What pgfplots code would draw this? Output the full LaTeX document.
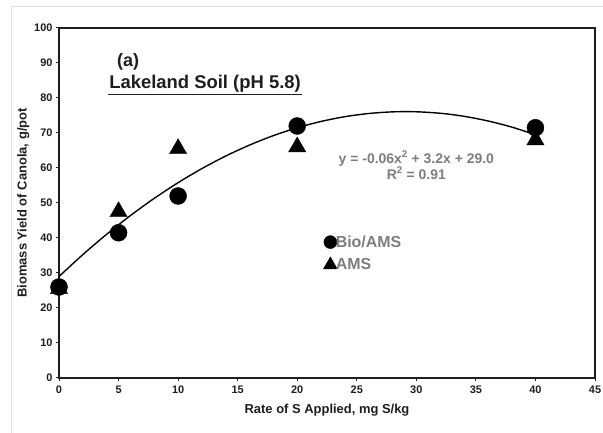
\documentclass[border=0pt]{standalone}
\usepackage{pgfplots}
\pgfplotsset{compat=1.18}
\usepackage{fontspec}
\setmainfont{Liberation Sans}
\definecolor{txtgray}{RGB}{125,125,125}
\definecolor{axcol}{RGB}{30,30,30}
\begin{document}
\begin{tikzpicture}
\path[use as bounding box] (0,0) rectangle (603bp,433bp);
\draw[black!12, line width=1bp] (11bp,0) -- (11bp,426bp) -- (603bp,426bp);
\begin{axis}[
  at={(59bp,55bp)}, anchor=south west,
  scale only axis, width=536bp, height=350bp,
  xmin=0, xmax=45, ymin=0, ymax=100,
  xtick={0,5,...,45}, ytick={0,10,...,100},
  axis line style={line width=1.8bp, color=axcol},
  tick style={line width=1bp, color=axcol},
  tick align=outside, major tick length=3bp,
  xtick pos=bottom, ytick pos=left,
  /pgf/number format/assume math mode=true,
  ticklabel style={font=\bfseries\fontsize{11}{12}\selectfont, text=axcol},
  xticklabel style={yshift=-1bp},
  xlabel={Rate of S Applied, mg S/kg},
  ylabel={Biomass Yield of Canola, g/pot},
  label style={font=\bfseries\fontsize{13}{14}\selectfont, text=axcol},
  xlabel style={yshift=-4bp},
  ylabel style={yshift=-2bp},
  legend style={at={(0.493,0.356)}, anchor=west, draw=none, fill=none,
    font=\bfseries\fontsize{16}{17}\selectfont, text=txtgray,
    row sep=6bp, inner sep=0pt},
  legend cell align=left,
  clip=false,
]
\addplot[black, line width=1.4bp, smooth, forget plot] coordinates {
(0,29.00) (2,35.25) (4,41.06) (6,46.42) (8,51.34) (10,55.81) (12,59.84)
(14,63.42) (16,66.56) (18,69.25) (20,71.50) (22,73.30) (24,74.66) (26,75.57)
(28,76.04) (30,76.06) (32,75.64) (34,74.77) (36,73.45) (38,71.70) (40,69.49)};
\addplot[only marks, mark=*, mark size=8.5bp, black, forget plot] coordinates {
(0,26) (5,41.5) (10,52) (20,72) (40,71.5)};
\addplot[only marks, mark=triangle*, mark size=10bp, black, forget plot] coordinates {
(0,25.5) (5,47.5) (10,65.5) (20,66) (40,68)};
\addlegendimage{only marks, mark=*, mark size=6.5bp, black}
\addlegendentry{\hspace{-3.5bp}Bio/AMS}
\addlegendimage{only marks, mark=triangle*, mark size=8bp, black}
\addlegendentry{\hspace{-3.5bp}AMS}
\node[font=\bfseries\fontsize{18}{19}\selectfont, text=axcol] at (axis cs:5.8,90.3) {(a)};
\node[font=\bfseries\fontsize{18.5}{19}\selectfont, text=axcol, inner sep=1bp] (t) at (axis cs:12.26,84) {Lakeland Soil (pH 5.8)};
\draw[axcol, line width=1.4bp] ([yshift=-0.5bp]t.south west) -- ([yshift=-0.5bp]t.south east);
\node[font=\bfseries\fontsize{14}{15}\selectfont, text=txtgray, align=center] at (axis cs:30.0,60.8)
  {y = -0.06x\textsuperscript{2} + 3.2x + 29.0\\[1bp]R\textsuperscript{2} = 0.91};
\end{axis}
\end{tikzpicture}
\end{document}
